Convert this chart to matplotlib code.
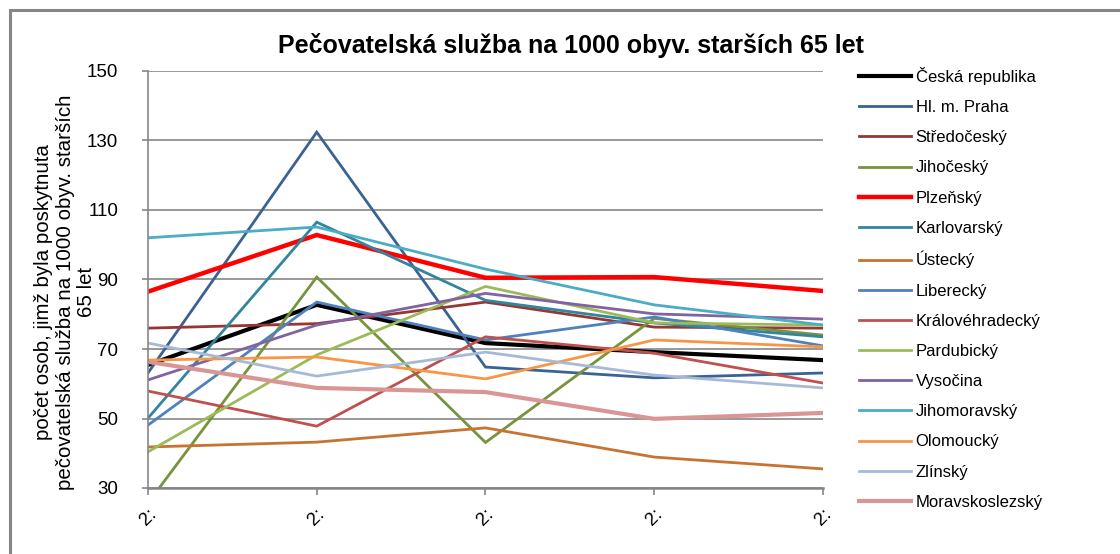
import matplotlib
matplotlib.use("Agg")
import matplotlib.pyplot as plt
from matplotlib.patches import Rectangle

plt.rcParams['font.family'] = ['Liberation Sans', 'DejaVu Sans']

years = ["2:", "2:", "2:", "2:", "2:"]

cr = [65.4, 82.7, 71.7, 69.1, 66.8]
praha = [63.1, 132.4, 64.8, 61.7, 63.1]
stredocesky = [76.0, 77.3, 83.5, 76.3, 76.0]
jihocesky = [25.7, 90.7, 43.1, 78.8, 74.0]
plzensky = [86.5, 102.8, 90.5, 90.7, 86.7]
karlovarsky = [50.1, 106.5, 84.0, 77.5, 73.5]
ustecky = [41.8, 43.2, 47.3, 38.9, 35.5]
liberecky = [48.1, 83.5, 72.6, 79.2, 70.9]
kralovehradecky = [57.9, 47.8, 73.5, 68.8, 60.2]
pardubicky = [40.4, 68.3, 88.0, 77.5, 76.9]
vysocina = [61.1, 76.9, 86.0, 80.1, 78.6]
jihomoravsky = [102.0, 105.1, 93.0, 82.7, 76.9]
olomoucky = [66.8, 67.7, 61.4, 72.6, 70.6]
zlinsky = [71.7, 62.2, 69.1, 62.5, 58.8]
moravskoslezsky = [66.3, 58.8, 57.6, 49.9, 51.6]

ylabel_lines = ["počet osob, jimž byla poskytnuta",
                "pečovatelská služba na 1000 obyv. starších",
                "65 let"]

series = [
    ("Česká republika", cr, "#000000", 3.0),
    ("Hl. m. Praha", praha, "#3a6293", 2.0),
    ("Středočeský", stredocesky, "#953735", 2.0),
    ("Jihočeský", jihocesky, "#77933c", 2.0),
    ("Plzeňský", plzensky, "#ff0000", 3.2),
    ("Karlovarský", karlovarsky, "#31859c", 2.0),
    ("Ústecký", ustecky, "#c8732f", 2.0),
    ("Liberecký", liberecky, "#4f81bd", 2.0),
    ("Královéhradecký", kralovehradecky, "#c0504d", 2.0),
    ("Pardubický", pardubicky, "#9bbb59", 2.0),
    ("Vysočina", vysocina, "#8064a2", 2.0),
    ("Jihomoravský", jihomoravsky, "#4bacc6", 2.0),
    ("Olomoucký", olomoucky, "#f79646", 2.0),
    ("Zlínský", zlinsky, "#a7b9d9", 2.0),
    ("Moravskoslezský", moravskoslezsky, "#d99694", 3.0),
]

W, H = 1120, 554
fig = plt.figure(figsize=(W / 100, H / 100), dpi=100)
ax = fig.add_axes([148 / W, 1 - 488 / H, (823 - 148) / W, (488 - 71) / H])

x = list(range(len(years)))
for name, vals, color, lw in series:
    ax.plot(x, vals, color=color, lw=lw, label=name, solid_joinstyle='miter')

grid_c = "#868686"
ax.set_ylim(30, 150)
ax.set_xlim(0, len(years) - 1)
ax.set_yticks(range(30, 151, 20))
ax.yaxis.grid(True, color=grid_c, lw=1.2)
ax.set_axisbelow(True)
for s in ("top", "right"):
    ax.spines[s].set_visible(False)
ax.spines["left"].set_color(grid_c)
ax.spines["bottom"].set_color(grid_c)
ax.spines["left"].set_linewidth(1.2)
ax.spines["bottom"].set_linewidth(1.8)
ax.tick_params(axis="y", colors=grid_c, labelcolor="black", labelsize=13.5,
               length=4, width=1.2, pad=17.5)
ax.tick_params(axis="x", colors=grid_c, labelcolor="black", labelsize=13.5,
               length=5, width=1.2, pad=16)
ax.set_xticks(x)
ax.set_xticklabels(years, rotation=45, ha="center", va="center")

# vertical axis caption, one rotated line per row
for xpos, line in zip((44, 66, 87), ylabel_lines):
    fig.text(xpos / W, 1 - 292 / H, line, rotation=90, ha="center",
             va="center", fontsize=14.8)

fig.text(571 / W, 1 - 45 / H, "Pečovatelská služba na 1000 obyv. starších 65 let",
         ha="center", va="center", fontsize=18, fontweight="bold")

leg = ax.legend(loc="upper left", bbox_to_anchor=(859 / W, 1 - 67 / H),
                bbox_transform=fig.transFigure, frameon=False, fontsize=12,
                handlelength=3.1, handletextpad=0.3, labelspacing=0.91,
                borderaxespad=0, borderpad=0)

fig.patches.append(Rectangle((10 / W, -0.1), 1.2, 1.1 - 10 / H,
                             transform=fig.transFigure, fill=False,
                             edgecolor=grid_c, lw=2.2, zorder=-1))

fig.savefig("out.png", dpi=100)
